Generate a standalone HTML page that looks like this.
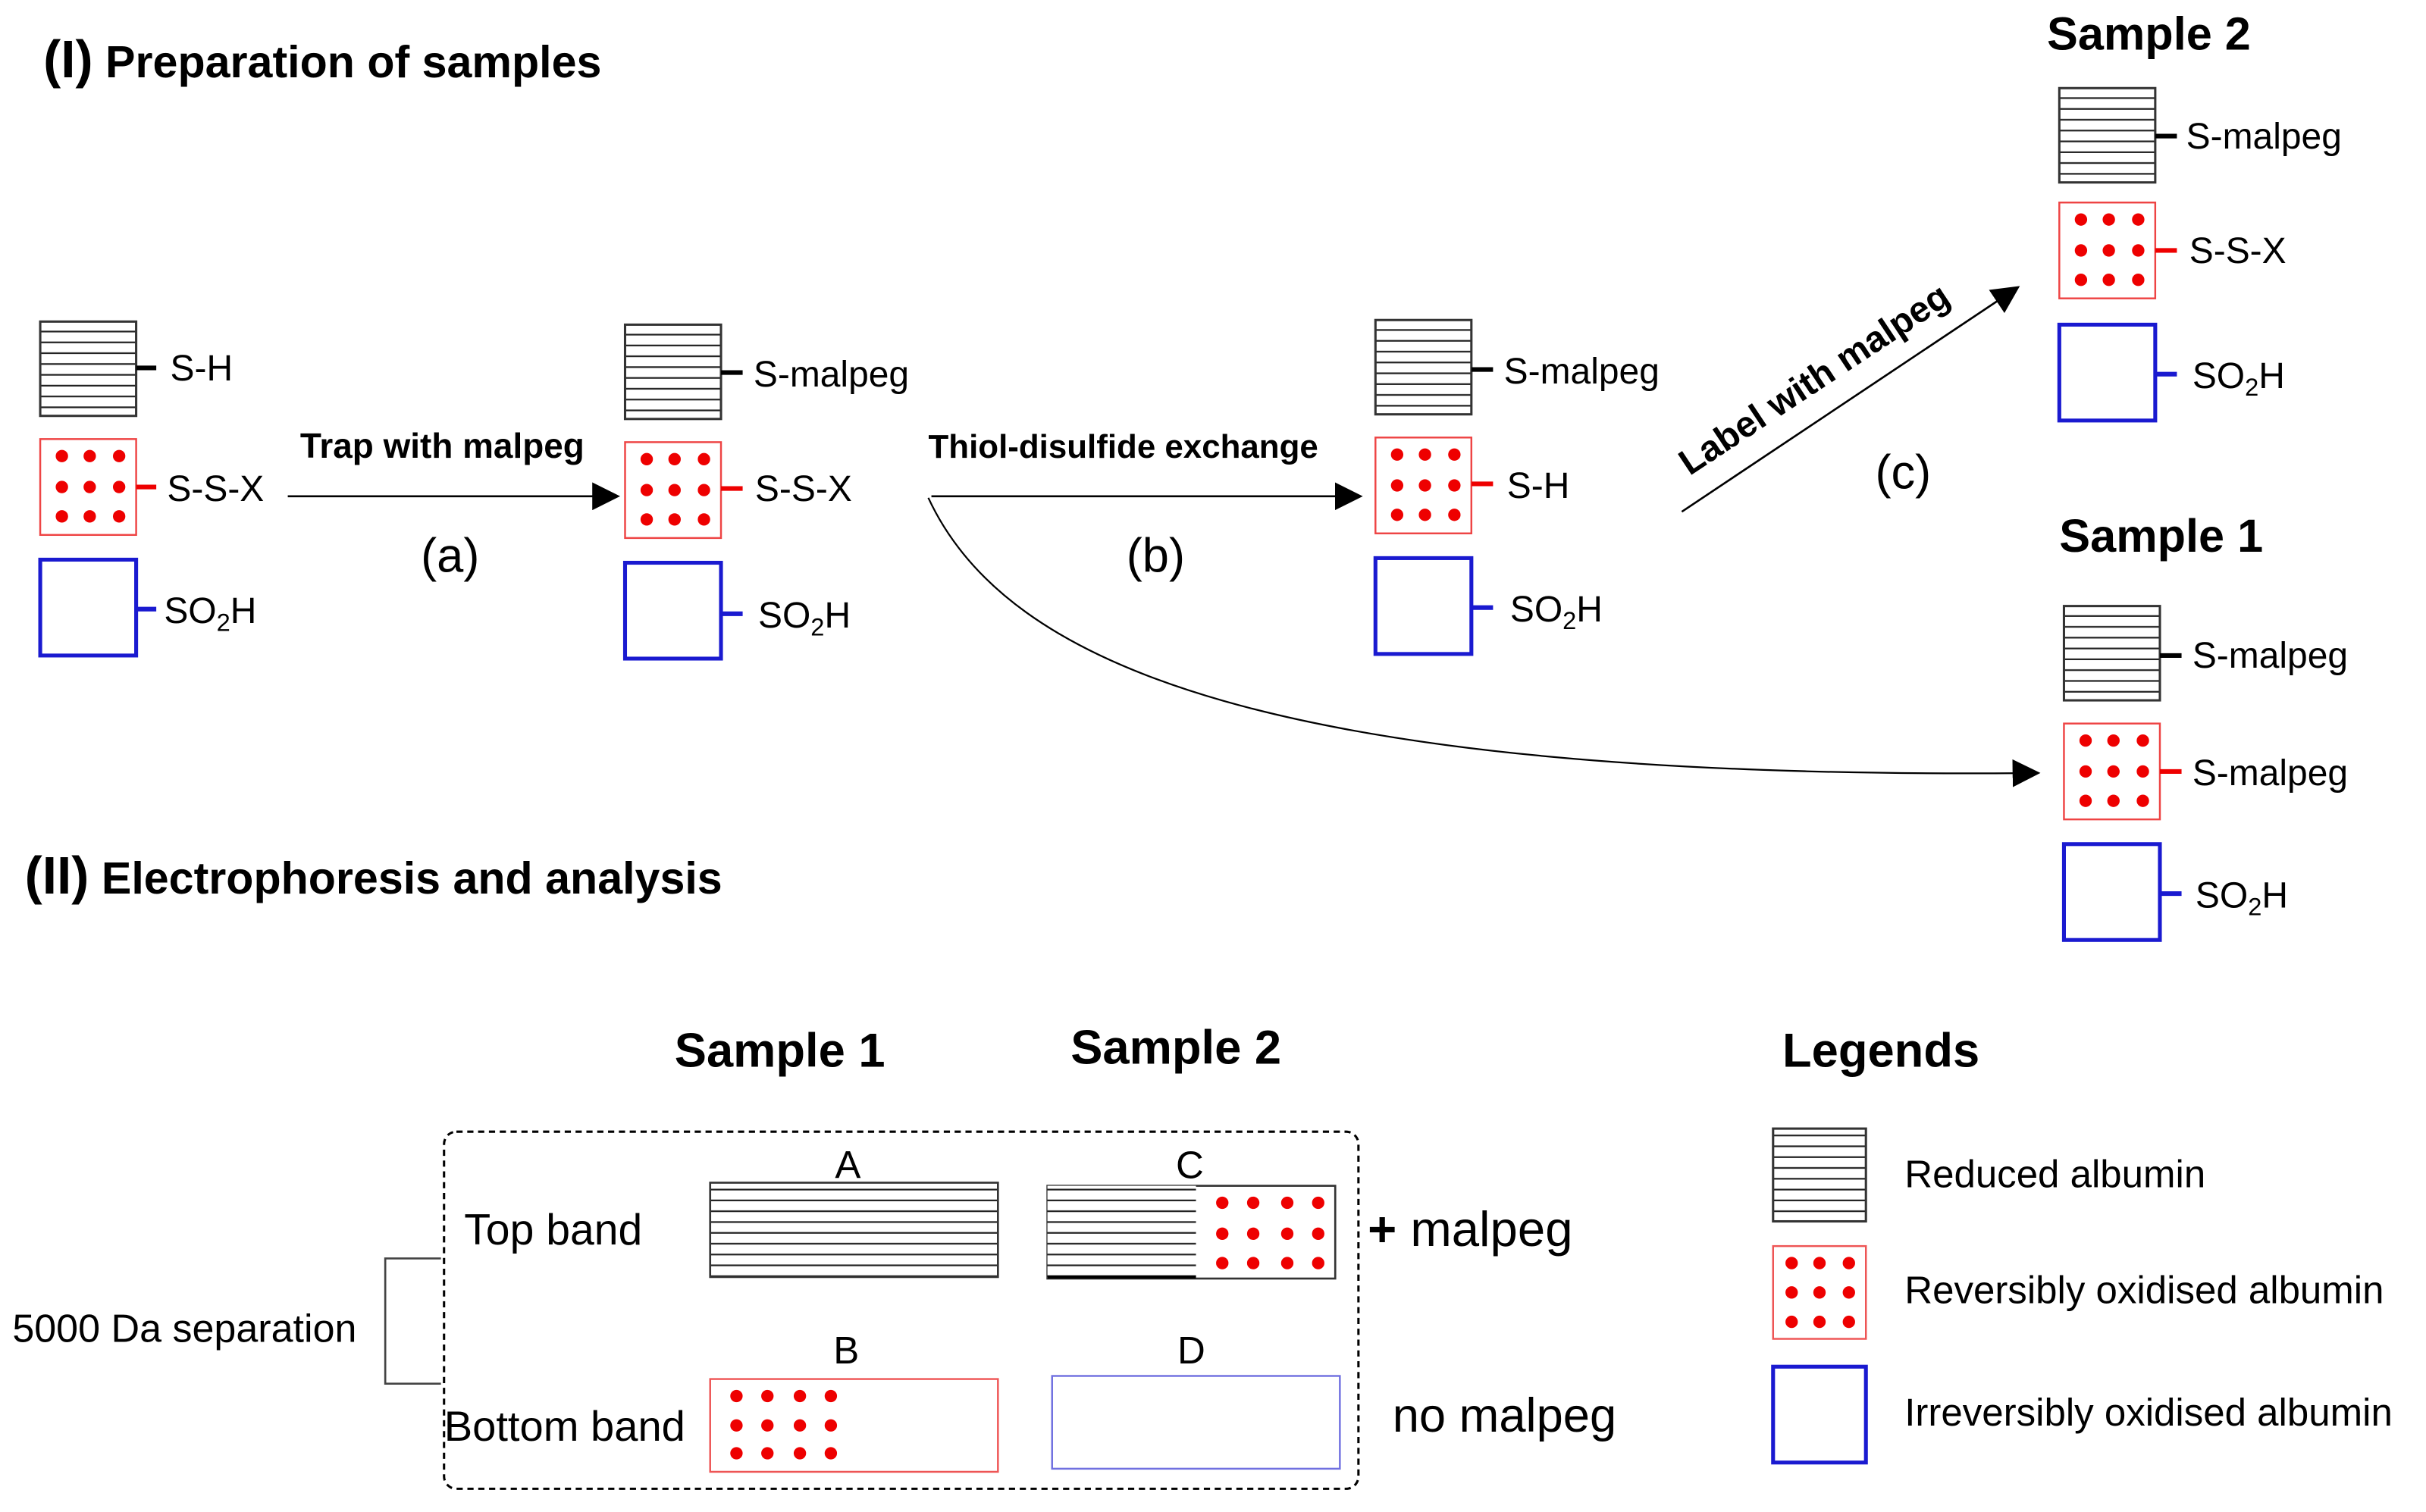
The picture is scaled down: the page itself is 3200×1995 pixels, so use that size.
<!DOCTYPE html>
<html><head><meta charset="utf-8"><style>html,body{margin:0;padding:0;background:#fff}svg{display:block}</style></head>
<body>
<svg width="3200" height="1995" viewBox="0 0 1568 978" preserveAspectRatio="none" xmlns="http://www.w3.org/2000/svg" font-family="Liberation Sans, Arial, sans-serif">
<defs>
<pattern id="st" width="10" height="7" patternUnits="userSpaceOnUse"><rect width="10" height="7" fill="#fff"/><line x1="0" y1="6.5" x2="10" y2="6.5" stroke="#222" stroke-width="1.2"/></pattern>
<g id="S"><rect x="0" y="0" width="62" height="61" fill="url(#st)" stroke="#333" stroke-width="1.5"/></g>
<g id="R"><rect x="0" y="0" width="62" height="62" fill="#fff" stroke="#e44" stroke-width="1.2"/>
<g fill="#e00"><circle cx="14" cy="11" r="4"/><circle cx="32" cy="11" r="4"/><circle cx="51" cy="11" r="4"/><circle cx="14" cy="31" r="4"/><circle cx="32" cy="31" r="4"/><circle cx="51" cy="31" r="4"/><circle cx="14" cy="50" r="4"/><circle cx="32" cy="50" r="4"/><circle cx="51" cy="50" r="4"/></g></g>
<g id="B"><rect x="0" y="0" width="62" height="62" fill="#fff" stroke="#1a1ad0" stroke-width="2.5"/></g>
<marker id="ah" viewBox="0 0 10 10" refX="9" refY="5" markerWidth="18" markerHeight="18" markerUnits="userSpaceOnUse" orient="auto"><path d="M0,0 L10,5 L0,10 z" fill="#000"/></marker>
</defs>

<text x="28" y="50" font-size="29" font-weight="bold"><tspan font-size="34">(I)</tspan> Preparation of samples</text>
<text x="16" y="578" font-size="29" font-weight="bold"><tspan font-size="34">(II)</tspan> Electrophoresis and analysis</text>

<g font-size="23.5">
<use href="#S" x="26" y="208"/><line x1="88" y1="238" x2="101" y2="238" stroke="#000" stroke-width="3"/><text x="110" y="246">S-H</text>
<use href="#R" x="26" y="284"/><line x1="88" y1="315" x2="101" y2="315" stroke="#e00" stroke-width="3"/><text x="108" y="324">S-S-X</text>
<use href="#B" x="26" y="362"/><line x1="88" y1="394" x2="101" y2="394" stroke="#1a1ad0" stroke-width="3"/><text x="106" y="403">SO<tspan font-size="16" dy="5">2</tspan><tspan dy="-5">H</tspan></text>

<line x1="186" y1="321" x2="399" y2="321" stroke="#000" stroke-width="1.3" marker-end="url(#ah)"/>
<text x="194" y="296" font-size="22.5" font-weight="bold">Trap with malpeg</text>
<text x="272" y="370" font-size="31">(a)</text>

<use href="#S" x="404" y="210"/><line x1="466" y1="241" x2="480" y2="241" stroke="#000" stroke-width="3"/><text x="487" y="250">S-malpeg</text>
<use href="#R" x="404" y="286"/><line x1="466" y1="316" x2="480" y2="316" stroke="#e00" stroke-width="3"/><text x="488" y="324">S-S-X</text>
<use href="#B" x="404" y="364"/><line x1="466" y1="397" x2="480" y2="397" stroke="#1a1ad0" stroke-width="3"/><text x="490" y="406">SO<tspan font-size="16" dy="5">2</tspan><tspan dy="-5">H</tspan></text>

<path d="M600,322 C650,430 820,505 1317,500" fill="none" stroke="#000" stroke-width="1.1" marker-end="url(#ah)"/>
<line x1="602" y1="321" x2="879" y2="321" stroke="#000" stroke-width="1.3" marker-end="url(#ah)"/>
<text x="600" y="296" font-size="21.5" font-weight="bold">Thiol-disulfide exchange</text>
<text x="728" y="370" font-size="31">(b)</text>

<use href="#S" x="889" y="207"/><line x1="951" y1="239" x2="965" y2="239" stroke="#000" stroke-width="3"/><text x="972" y="248">S-malpeg</text>
<use href="#R" x="889" y="283"/><line x1="951" y1="313" x2="965" y2="313" stroke="#e00" stroke-width="3"/><text x="974" y="322">S-H</text>
<use href="#B" x="889" y="361"/><line x1="951" y1="393" x2="965" y2="393" stroke="#1a1ad0" stroke-width="3"/><text x="976" y="402">SO<tspan font-size="16" dy="5">2</tspan><tspan dy="-5">H</tspan></text>

<line x1="1087" y1="331" x2="1304" y2="186" stroke="#000" stroke-width="1.3" marker-end="url(#ah)"/>
<text x="0" y="0" font-size="23.5" font-weight="bold" transform="translate(1092,308) rotate(-33.5)">Label with malpeg</text>
<text x="1212" y="316" font-size="31">(c)</text>

<text x="1323" y="32" font-size="30" font-weight="bold">Sample 2</text>
<use href="#S" x="1331" y="57"/><line x1="1393" y1="88" x2="1407" y2="88" stroke="#000" stroke-width="3"/><text x="1413" y="96">S-malpeg</text>
<use href="#R" x="1331" y="131"/><line x1="1393" y1="162" x2="1407" y2="162" stroke="#e00" stroke-width="3"/><text x="1415" y="170">S-S-X</text>
<use href="#B" x="1331" y="210"/><line x1="1393" y1="242" x2="1407" y2="242" stroke="#1a1ad0" stroke-width="3"/><text x="1417" y="251">SO<tspan font-size="16" dy="5">2</tspan><tspan dy="-5">H</tspan></text>

<text x="1331" y="357" font-size="30" font-weight="bold">Sample 1</text>
<use href="#S" x="1334" y="392"/><line x1="1396" y1="424" x2="1410" y2="424" stroke="#000" stroke-width="3"/><text x="1417" y="432">S-malpeg</text>
<use href="#R" x="1334" y="468"/><line x1="1396" y1="499" x2="1410" y2="499" stroke="#e00" stroke-width="3"/><text x="1417" y="508">S-malpeg</text>
<use href="#B" x="1334" y="546"/><line x1="1396" y1="578" x2="1410" y2="578" stroke="#1a1ad0" stroke-width="3"/><text x="1419" y="587">SO<tspan font-size="16" dy="5">2</tspan><tspan dy="-5">H</tspan></text>
</g>

<text x="436" y="690" font-size="31" font-weight="bold">Sample 1</text>
<text x="692" y="688" font-size="31" font-weight="bold">Sample 2</text>
<text x="1152" y="690" font-size="31" font-weight="bold">Legends</text>

<rect x="287" y="732" width="591" height="231" rx="8" fill="none" stroke="#000" stroke-width="1.5" stroke-dasharray="4,3"/>
<g font-size="25">
<text x="300" y="805" font-size="28">Top band</text>
<text x="287" y="932" font-size="27.5">Bottom band</text>
<text x="548" y="762" text-anchor="middle">A</text>
<text x="769" y="762" text-anchor="middle">C</text>
<text x="547" y="882" text-anchor="middle">B</text>
<text x="770" y="882" text-anchor="middle">D</text>
</g>
<rect x="459" y="765" width="186" height="61" fill="url(#st)" stroke="#333" stroke-width="1.3"/>
<rect x="677" y="767" width="186" height="60" fill="#fff" stroke="#333" stroke-width="1.3"/>
<rect x="677" y="767" width="96" height="60" fill="url(#st)" stroke="none"/>
<line x1="677" y1="826" x2="773" y2="826" stroke="#000" stroke-width="2"/>
<g fill="#e00">
<circle cx="790" cy="778" r="4"/><circle cx="810" cy="778" r="4"/><circle cx="832" cy="778" r="4"/><circle cx="852" cy="778" r="4"/>
<circle cx="790" cy="798" r="4"/><circle cx="810" cy="798" r="4"/><circle cx="832" cy="798" r="4"/><circle cx="852" cy="798" r="4"/>
<circle cx="790" cy="817" r="4"/><circle cx="810" cy="817" r="4"/><circle cx="832" cy="817" r="4"/><circle cx="852" cy="817" r="4"/>
</g>
<rect x="459" y="892" width="186" height="60" fill="#fff" stroke="#e55" stroke-width="1.2"/>
<g fill="#e00">
<circle cx="476" cy="903" r="4"/><circle cx="496" cy="903" r="4"/><circle cx="517" cy="903" r="4"/><circle cx="537" cy="903" r="4"/>
<circle cx="476" cy="922" r="4"/><circle cx="496" cy="922" r="4"/><circle cx="517" cy="922" r="4"/><circle cx="537" cy="922" r="4"/>
<circle cx="476" cy="940" r="4"/><circle cx="496" cy="940" r="4"/><circle cx="517" cy="940" r="4"/><circle cx="537" cy="940" r="4"/>
</g>
<rect x="680" y="890" width="186" height="60" fill="#fff" stroke="#7070e0" stroke-width="1.2"/>
<text x="884" y="806" font-size="32"><tspan font-weight="bold">+</tspan> malpeg</text>
<text x="900" y="926" font-size="31">no malpeg</text>

<polyline points="285,814 249,814 249,895 285,895" fill="none" stroke="#444" stroke-width="1.3"/>
<text x="8" y="868" font-size="25.5">5000 Da separation</text>

<rect x="1146" y="730" width="60" height="60" fill="url(#st)" stroke="#333" stroke-width="1.5"/>
<text x="1231" y="768" font-size="25">Reduced albumin</text>
<rect x="1146" y="806" width="60" height="60" fill="#fff" stroke="#e55" stroke-width="1.2"/>
<g fill="#e00">
<circle cx="1158" cy="817" r="4"/><circle cx="1176" cy="817" r="4"/><circle cx="1195" cy="817" r="4"/>
<circle cx="1158" cy="836" r="4"/><circle cx="1176" cy="836" r="4"/><circle cx="1195" cy="836" r="4"/>
<circle cx="1158" cy="855" r="4"/><circle cx="1176" cy="855" r="4"/><circle cx="1195" cy="855" r="4"/>
</g>
<text x="1231" y="843" font-size="25">Reversibly oxidised albumin</text>
<rect x="1146" y="884" width="60" height="62" fill="#fff" stroke="#1a1ad0" stroke-width="2.5"/>
<text x="1231" y="922" font-size="25">Irreversibly oxidised albumin</text>
</svg>
</body></html>
